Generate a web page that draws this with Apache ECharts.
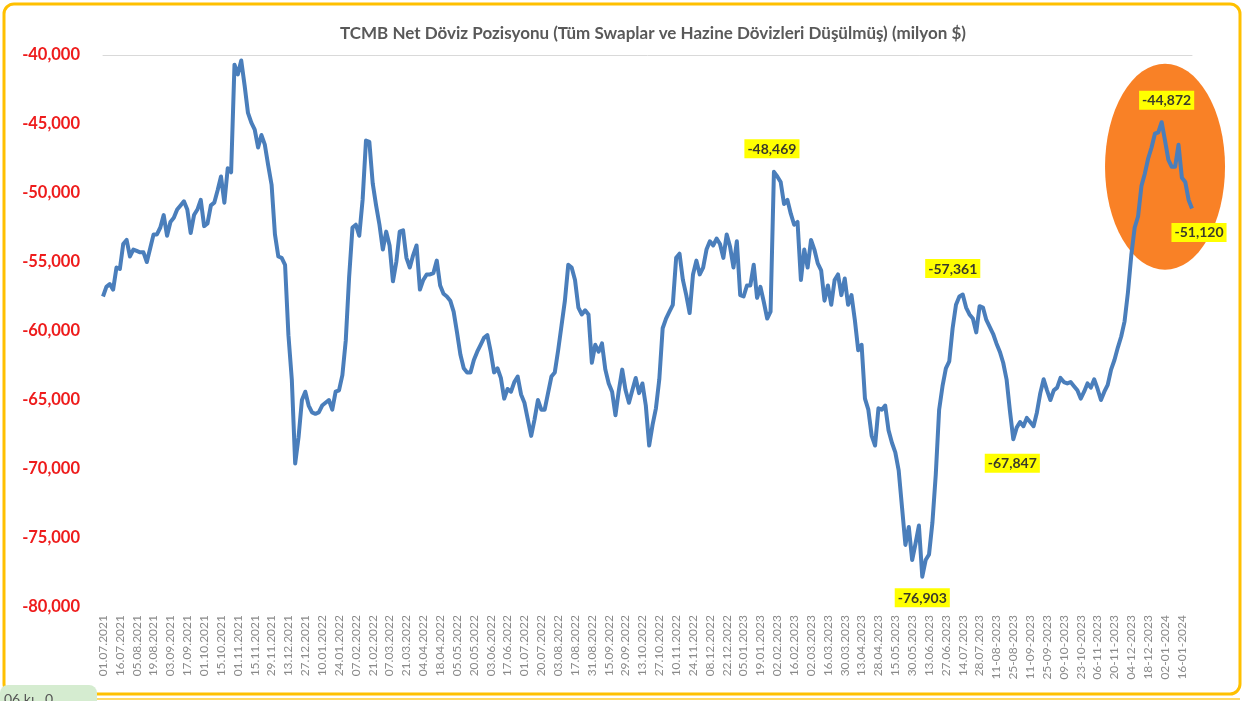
<!DOCTYPE html>
<html>
<head>
<meta charset="utf-8">
<script src="https://cdn.jsdelivr.net/npm/echarts@6/dist/echarts.min.js"></script>
<style>
  html, body { margin: 0; padding: 0; background: #fff; }
  #chart { width: 1253px; height: 701px; }
</style>
</head>
<body>
<div id="chart"></div>
<script>
var dom = document.getElementById('chart');
var myChart = echarts.init(dom, null, { renderer: 'canvas' });

// eksen etiketleri (her 10 iş günü)
const tickLabels = [
    '01.07.2021', '16.07.2021', '05.08.2021', '19.08.2021', '03.09.2021', '17.09.2021', '01.10.2021', '15.10.2021',
    '01.11.2021', '15.11.2021', '29.11.2021', '13.12.2021', '27.12.2021', '10.01.2022', '24.01.2022', '07.02.2022',
    '21.02.2022', '07.03.2022', '21.03.2022', '04.04.2022', '18.04.2022', '05.05.2022', '20.05.2022', '03.06.2022',
    '17.06.2022', '01.07.2022', '20.07.2022', '03.08.2022', '17.08.2022', '31.08.2022', '15.09.2022', '29.09.2022',
    '13.10.2022', '27.10.2022', '10.11.2022', '24.11.2022', '08.12.2022', '22.12.2022', '05.01.2023', '19.01.2023',
    '02.02.2023', '16.02.2023', '02.03.2023', '16.03.2023', '30.03.2023', '13.04.2023', '28.04.2023', '15.05.2023',
    '30.05.2023', '13.06.2023', '27.06.2023', '14.07.2023', '28.07.2023', '11-08-2023', '25-08-2023', '11-09-2023',
    '25-09-2023', '09-10-2023', '23-10-2023', '06-11-2023', '20-11-2023', '04-12-2023', '18-12-2023', '02-01-2024',
    '16-01-2024'
];

// net döviz pozisyonu, milyon $ (yaklaşık 2 iş günü aralıkla)
const values = [
    -57500, -56800, -56600, -57000, -55400, -55500, -53700, -53400, -54600, -54100,
    -54200, -54300, -54300, -55000, -54000, -53000, -53000, -52500, -51600, -53100,
    -52100, -51800, -51200, -50900, -50600, -51200, -52900, -51600, -51200, -50500,
    -52400, -52200, -50900, -50700, -49800, -48800, -50700, -48200, -48500, -40700,
    -41400, -40400, -42200, -44200, -44900, -45400, -46700, -45800, -46500, -48000,
    -49400, -53000, -54600, -54700, -55200, -60300, -63500, -69600, -67700, -65000,
    -64400, -65400, -65900, -66000, -65900, -65400, -65200, -65000, -65700, -64400,
    -64300, -63200, -60700, -56100, -52500, -52300, -53100, -50500, -46200, -46300,
    -49300, -50900, -52300, -54100, -52800, -53800, -56400, -55000, -52800, -52700,
    -54700, -55400, -54500, -53800, -57000, -56300, -55900, -55900, -55800, -54900,
    -56700, -57300, -57500, -57800, -58600, -60100, -61700, -62700, -63000, -63000,
    -62100, -61500, -61000, -60500, -60300, -61500, -63000, -62700, -63400, -64900,
    -64200, -64400, -63700, -63300, -64600, -65200, -66400, -67600, -66400, -65000,
    -65700, -65700, -64500, -63300, -63000, -61400, -59600, -57800, -55200, -55400,
    -56300, -58300, -58800, -58500, -58800, -62300, -61000, -61500, -60900, -62800,
    -63800, -64400, -66100, -64300, -62800, -64300, -65200, -64300, -63400, -64500,
    -63800, -65400, -68300, -66800, -65600, -63500, -59800, -59100, -58600, -58100,
    -54700, -54400, -56300, -57400, -58700, -55900, -54900, -55900, -55400, -54100,
    -53500, -53800, -53300, -53700, -54700, -53000, -53900, -55400, -53500, -57400,
    -57500, -56700, -56700, -55200, -57600, -56800, -57900, -59100, -58600, -48469,
    -48800, -49200, -50800, -50500, -51500, -52300, -52100, -56300, -54100, -55400,
    -53400, -54100, -55100, -55600, -57800, -56700, -58100, -56300, -55900, -57400,
    -56200, -58100, -57400, -59200, -61400, -61000, -64900, -65700, -67600, -68300,
    -65600, -65700, -65400, -67200, -68100, -68800, -70100, -72800, -75500, -74200,
    -76600, -75400, -74100, -77800, -76600, -76200, -73900, -70400, -65700, -64000,
    -62700, -62200, -59800, -58100, -57500, -57361, -58300, -58800, -59100, -60100,
    -58200, -58300, -59200, -59700, -60200, -60900, -61500, -62300, -63500, -65800,
    -67847, -67000, -66600, -66900, -66300, -66600, -66900, -65900, -64500, -63500,
    -64300, -65000, -64300, -64100, -63400, -63700, -63800, -63700, -64000, -64300,
    -64900, -64400, -63800, -64100, -63500, -64200, -65000, -64400, -63900, -62800,
    -62100, -61200, -60400, -59300, -57200, -54500, -52500, -51700, -49500, -48600,
    -47500, -46700, -45700, -45600, -44872, -46200, -47600, -48100, -48100, -46500,
    -48900, -49200, -50500, -51120
];

// sarı etiketler: [nokta indeksi, yazı, konum]
const notes = [
    [199, '-48,469', 'top'],
    [255, '-57,361', 'top'],
    [270, '-67,847', 'bottom'],
    [243, '-76,903', 'bottom'],
    [314, '-44,872', 'top'],
    [323, '-51,120', 'bottom']
];

// her etiket arasında 5 nokta
var categories = [];
tickLabels.forEach(function (lbl) {
    for (var j = 0; j < 5; j++) {
        categories.push(j === 0 ? lbl : lbl + ' +' + j);
    }
});
categories.length = values.length;

var noteOffsets = {
    '-48,469': [-2, -3], '-57,361': [-10, -6], '-67,847': [-1, 4],
    '-76,903': [0, 1], '-44,872': [5, -2], '-51,120': [7, 4]
};

var option = {
    animation: false,
    backgroundColor: '#ffffff',
    title: {
        text: 'TCMB Net Döviz Pozisyonu (Tüm Swaplar ve Hazine Dövizleri Düşülmüş) (milyon $)',
        left: 335,
        top: 20,
        textStyle: {
            color: '#595959',
            fontFamily: 'Lato',
            fontWeight: 'bold',
            fontSize: 17
        }
    },
    grid: {
        left: 103,
        right: 61,
        top: 55,
        bottom: 94
    },
    xAxis: [
        {
            type: 'category',
            boundaryGap: false,
            data: categories,
            axisLine: { show: false },
            axisTick: { show: false },
            axisLabel: {
                interval: 4,
                rotate: 90,
                margin: 8,
                color: '#8a8a8a',
                fontFamily: 'Lato',
                fontSize: 12
            }
        },
        {
            type: 'category',
            position: 'top',
            boundaryGap: false,
            data: categories,
            axisLine: { show: true, lineStyle: { color: '#d9d9d9', width: 1 } },
            axisTick: { show: false },
            axisLabel: { show: false }
        }
    ],
    yAxis: {
        type: 'value',
        min: -80000,
        max: -40000,
        interval: 5000,
        axisLine: { show: false },
        axisTick: { show: false },
        splitLine: { show: false },
        axisLabel: {
            margin: 23,
            color: '#ee1c1c',
            fontFamily: 'Lato',
            fontWeight: 'bold',
            fontSize: 16.5,
            formatter: function (v) {
                return '-' + Math.abs(v).toLocaleString('en-US');
            }
        }
    },
    series: [
        {
            type: 'line',
            data: values,
            showSymbol: false,
            symbol: 'none',
            z: 5,
            lineStyle: { color: '#4a7ebb', width: 4, join: 'round' },
            markPoint: {
                symbol: 'circle',
                symbolSize: 1,
                itemStyle: { color: 'rgba(0,0,0,0)' },
                data: notes.map(function (n) {
                    return {
                        coord: [n[0], values[n[0]]],
                        label: {
                            show: true,
                            position: n[2],
                            distance: 10,
                            offset: noteOffsets[n[1]],
                            formatter: n[1],
                            backgroundColor: '#ffff00',
                            color: '#3a3a2a',
                            fontFamily: 'Lato',
                            fontWeight: 'bold',
                            fontSize: 14,
                            padding: [3, 3, 2, 3]
                        }
                    };
                })
            }
        }
    ]
};

myChart.setOption(option);

// turuncu elips, dönem sonu vurgusu
var c = myChart.convertToPixel({ gridIndex: 0 }, [314.5, -48100]);
myChart.setOption({
    graphic: [
        {
            type: 'rect',
            shape: { x: 4, y: 4, width: 1236, height: 690, r: 10 },
            style: { fill: 'none', stroke: '#ffc000', lineWidth: 3 },
            z: 0
        },
        {
            type: 'line',
            shape: { x1: 4, y1: 699, x2: 1240, y2: 699 },
            style: { stroke: '#ffd966', lineWidth: 2 },
            z: 0
        },
        {
            type: 'circle',
            x: c[0],
            y: c[1],
            scaleY: 103 / 60,
            shape: { cx: 0, cy: 0, r: 60 },
            style: { fill: '#f98126' },
            z: 1
        },
        {
            type: 'rect',
            shape: { x: 0, y: 685, width: 97, height: 30, r: 8 },
            style: { fill: '#d5ecd0' },
            z: 2
        },
        {
            type: 'text',
            x: 4,
            y: 692,
            style: { text: '06 kı   0', fill: '#555', font: '14px Lato' },
            z: 3
        }
    ]
});

window.addEventListener('resize', myChart.resize);
</script>
</body>
</html>
